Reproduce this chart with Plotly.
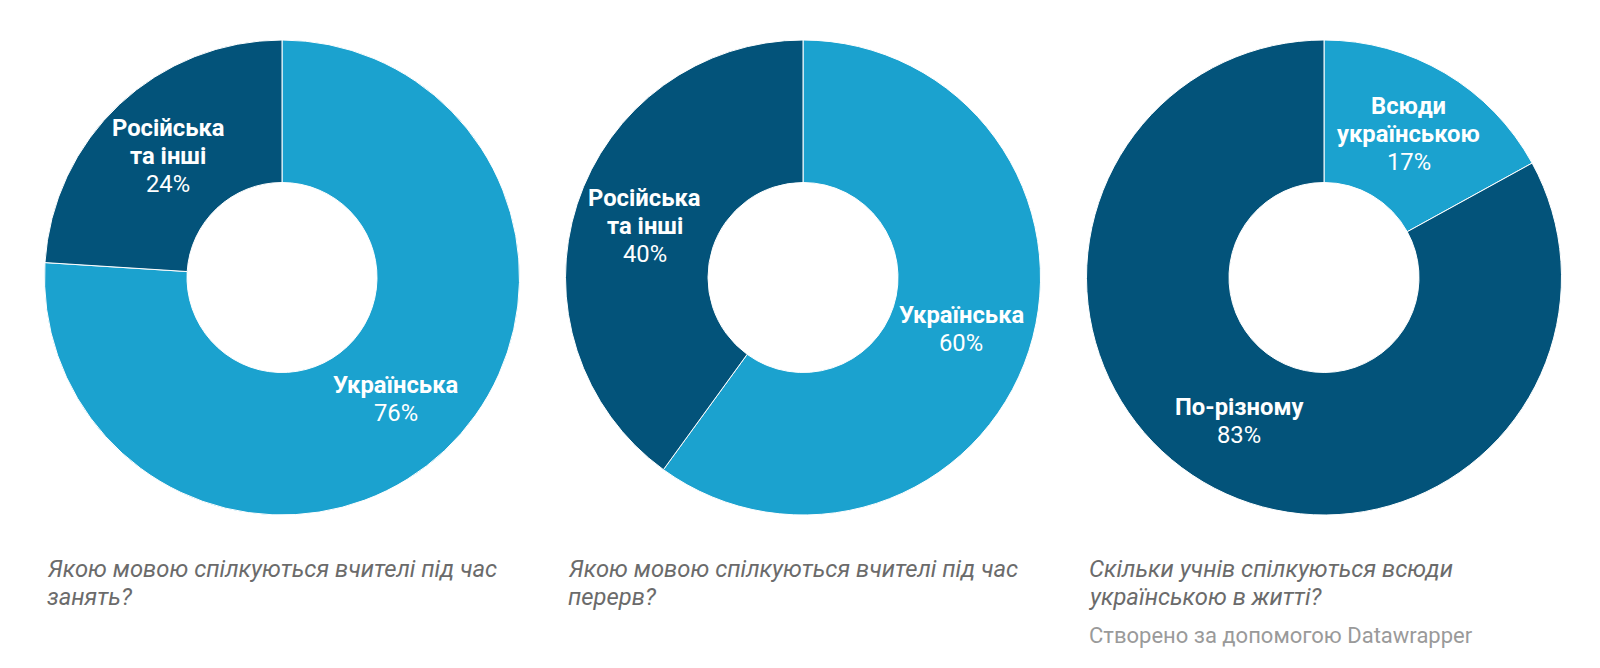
import numpy as np
import plotly.graph_objects as go

# page is 1600x668; default body margin 8px -> figure 1584x652
PAGE_OFF = 8
W, H = 1584, 652

# Data
chart1_labels = ["Українська", "Російська<br>та інші"]
chart1_values = [76, 24]
chart2_labels = ["Українська", "Російська<br>та інші"]
chart2_values = [60, 40]
chart3_labels = ["Всюди<br>українською", "По-різному"]
chart3_values = [17, 83]
captions = [
    ["Якою мовою спілкуються вчителі під час", "занять?"],
    ["Якою мовою спілкуються вчителі під час", "перерв?"],
    ["Скільки учнів спілкуються всюди", "українською в житті?"],
]
credit = "Створено за допомогою Datawrapper"

LIGHT = "#1ba2cf"
DARK = "#03537a"
colors = [
    [LIGHT, DARK],
    [LIGHT, DARK],
    [LIGHT, DARK],
]

datasets = [
    (chart1_labels, chart1_values),
    (chart2_labels, chart2_values),
    (chart3_labels, chart3_values),
]

# layout in page pixels
centers_x = [282, 803, 1324]
center_y = 277.5
R = 237.5
HOLE = 0.4
LABEL_SIZE = 23.8
LABEL_LH = 28
CAP_SIZE = 23.8
CAP_Y = [569, 597]
CREDIT_Y = 635
CREDIT_SIZE = 22

def px2paper(x, y):
    return (x - PAGE_OFF) / W, 1 - (y - PAGE_OFF) / H

fig = go.Figure()
annotations = []
for i, ((labels, values), cx) in enumerate(zip(datasets, centers_x)):
    x0, y1 = px2paper(cx - R, center_y - R)
    x1, y0 = px2paper(cx + R, center_y + R)
    fig.add_trace(go.Pie(
        labels=[l.replace("<br>", " ") for l in labels],
        values=values,
        sort=False,
        direction="clockwise",
        rotation=0,
        hole=HOLE,
        marker=dict(colors=colors[i], line=dict(color="white", width=1)),
        textinfo="none",
        hoverinfo="label+percent",
        showlegend=False,
        domain=dict(x=[x0, x1], y=[y0, y1]),
    ))
    # labels at the mid-angle of each slice, mid-radius of the ring
    vals = np.array(values, dtype=float)
    fr = vals / vals.sum()
    cum = np.cumsum(fr) - fr / 2
    rmid = R * (1 + HOLE) / 2
    for lab, f, c in zip(labels, fr, cum):
        ang = 2 * np.pi * c
        px = cx + rmid * np.sin(ang)
        py = center_y - rmid * np.cos(ang)
        lines = [(f"<b>{t}</b>") for t in lab.split("<br>")] + [f"{round(f*100)}%"]
        n = len(lines)
        for k, t in enumerate(lines):
            ly = py + (k - (n - 1) / 2) * LABEL_LH
            ax, ay = px2paper(px, ly)
            annotations.append(dict(
                x=ax, y=ay, xref="paper", yref="paper",
                text=t, showarrow=False, xanchor="center", yanchor="middle",
                font=dict(family="Roboto", size=LABEL_SIZE, color="white"),
            ))
    for t, ly in zip(captions[i], CAP_Y):
        ax, ay = px2paper(cx - R, ly)
        annotations.append(dict(
            x=ax, y=ay, xref="paper", yref="paper",
            text=f"<i>{t}</i>", showarrow=False,
            xanchor="left", yanchor="middle", align="left",
            font=dict(family="Roboto", size=CAP_SIZE, color="#6b6b6b"),
        ))

ax, ay = px2paper(centers_x[2] - R, CREDIT_Y)
annotations.append(dict(
    x=ax, y=ay, xref="paper", yref="paper",
    text=credit, showarrow=False, xanchor="left", yanchor="middle",
    font=dict(family="Roboto", size=CREDIT_SIZE, color="#9a9a9a"),
))

fig.update_layout(
    width=W, height=H,
    margin=dict(l=0, r=0, t=0, b=0),
    paper_bgcolor="white", plot_bgcolor="white",
    annotations=annotations,
)

fig.write_html("out.html", config={"displayModeBar": False})
